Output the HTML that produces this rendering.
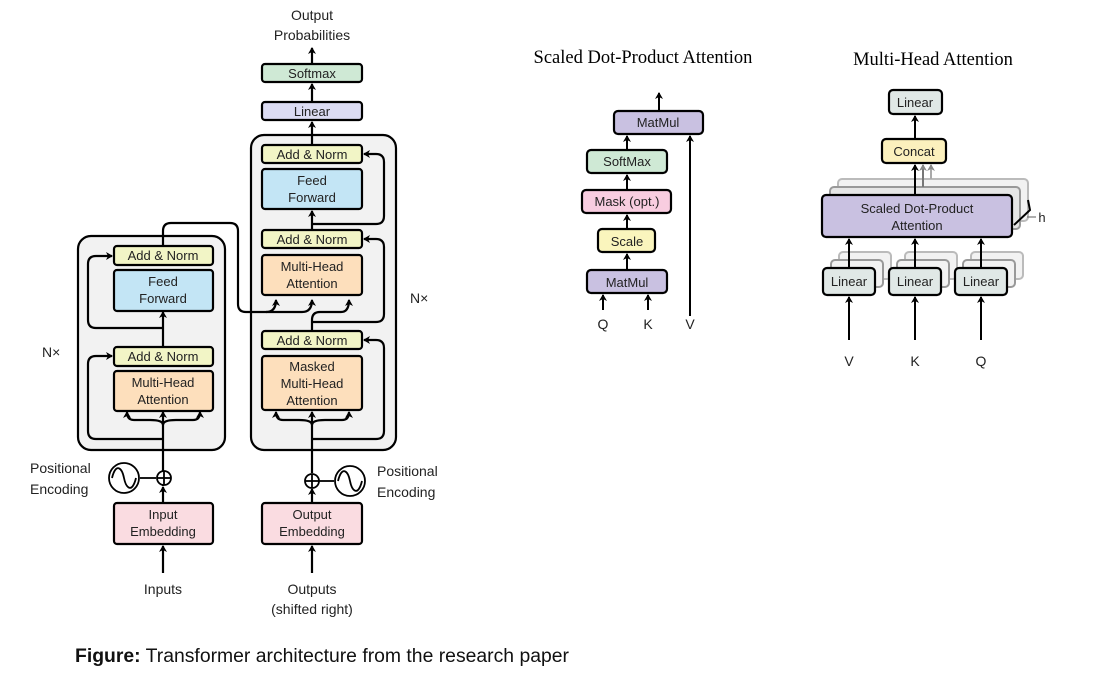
<!DOCTYPE html>
<html><head><meta charset="utf-8"><style>
html,body{margin:0;padding:0;background:#fff}
svg{display:block}
text{font-family:"Liberation Sans",sans-serif;fill:#222}
</style></head><body>
<svg width="1101" height="693" viewBox="0 0 1101 693" xmlns="http://www.w3.org/2000/svg">
<defs>
<marker id="a" markerWidth="8" markerHeight="8" refX="6" refY="4" orient="auto" markerUnits="userSpaceOnUse">
<path d="M0,0 L7,4 L0,8 L2,4 Z" fill="#000"/></marker>
<marker id="g" markerWidth="8" markerHeight="8" refX="6" refY="4" orient="auto" markerUnits="userSpaceOnUse">
<path d="M0,0 L7,4 L0,8 L2,4 Z" fill="#888"/></marker>
</defs>
<g stroke="#000" stroke-width="2.2" fill="none">
<rect x="78" y="236" width="147" height="214" rx="13" fill="#f2f2f2"/>
<rect x="251" y="135" width="145" height="315" rx="13" fill="#f2f2f2"/>
<line x1="163" y1="504" x2="163" y2="487" marker-end="url(#a)"/>
<line x1="163" y1="471" x2="163" y2="412" marker-end="url(#a)"/>
<line x1="163" y1="573" x2="163" y2="546" marker-end="url(#a)"/>
<path d="M163,425 Q163,420 150,420 L134,420 Q127,420 127,412" marker-end="url(#a)"/>
<path d="M163,425 Q163,420 176,420 L193,420 Q200,420 200,412" marker-end="url(#a)"/>
<path d="M163,439 L96,439 Q88,439 88,431 L88,364 Q88,356 96,356 L112,356" marker-end="url(#a)"/>
<line x1="163" y1="348" x2="163" y2="312" marker-end="url(#a)"/>
<path d="M163,328 L96,328 Q88,328 88,320 L88,264 Q88,256 96,256 L112,256" marker-end="url(#a)"/>
<path d="M163,246 L163,231 Q163,223 171,223 L230,223 Q238,223 238,231 L238,304 Q238,312 246,312 L266,312 Q276,312 276,300" marker-end="url(#a)"/>
<path d="M266,312 L302,312 Q312,312 312,300" marker-end="url(#a)"/>
<line x1="163" y1="470" x2="163" y2="486"/>
<line x1="312" y1="573" x2="312" y2="546" marker-end="url(#a)"/>
<line x1="312" y1="504" x2="312" y2="489" marker-end="url(#a)"/>
<line x1="312" y1="473" x2="312" y2="412" marker-end="url(#a)"/>
<path d="M312,425 Q312,420 299,420 L283,420 Q276,420 276,412" marker-end="url(#a)"/>
<path d="M312,425 Q312,420 325,420 L342,420 Q349,420 349,412" marker-end="url(#a)"/>
<path d="M312,439 L376,439 Q384,439 384,431 L384,348 Q384,340 376,340 L364,340" marker-end="url(#a)"/>
<path d="M312,331 L312,320 Q312,312 320,312 L341,312 Q349,312 349,300" marker-end="url(#a)"/>
<path d="M312,322 L376,322 Q384,322 384,314 L384,247 Q384,239 376,239 L364,239" marker-end="url(#a)"/>
<line x1="312" y1="230" x2="312" y2="211" marker-end="url(#a)"/>
<path d="M312,224 L376,224 Q384,224 384,216 L384,162 Q384,154 376,154 L364,154" marker-end="url(#a)"/>
<line x1="312" y1="145" x2="312" y2="122" marker-end="url(#a)"/>
<line x1="312" y1="102" x2="312" y2="84" marker-end="url(#a)"/>
<line x1="312" y1="64" x2="312" y2="48" marker-end="url(#a)"/>
</g>
<g stroke="#000" stroke-width="2.2">
<rect x="114" y="246" width="99" height="19" rx="3" fill="#f2f5c6"/>
<rect x="114" y="270" width="99" height="41" rx="3" fill="#c3e5f5"/>
<rect x="114" y="347" width="99" height="19" rx="3" fill="#f2f5c6"/>
<rect x="114" y="371" width="99" height="40" rx="3" fill="#fddfbc"/>
<rect x="114" y="503" width="99" height="41" rx="3" fill="#fadce1"/>
<rect x="262" y="64" width="100" height="18" rx="3" fill="#cfe9d5"/>
<rect x="262" y="102" width="100" height="18" rx="3" fill="#dcdcf3"/>
<rect x="262" y="145" width="100" height="18" rx="3" fill="#f2f5c6"/>
<rect x="262" y="169" width="100" height="40" rx="3" fill="#c3e5f5"/>
<rect x="262" y="230" width="100" height="18" rx="3" fill="#f2f5c6"/>
<rect x="262" y="255" width="100" height="40" rx="3" fill="#fddfbc"/>
<rect x="262" y="331" width="100" height="18" rx="3" fill="#f2f5c6"/>
<rect x="262" y="356" width="100" height="54" rx="3" fill="#fddfbc"/>
<rect x="262" y="503" width="100" height="41" rx="3" fill="#fadce1"/>
</g>
<g stroke="#000" stroke-width="1.8" fill="#fff">
<line x1="140" y1="478" x2="156" y2="478"/>
<circle cx="124" cy="478" r="15"/>
<path d="M112,478 C116,462 122,468 124,478 C126,488 132,494 136,478" fill="none"/>
<circle cx="164" cy="478" r="7"/>
<line x1="157" y1="478" x2="171" y2="478"/><line x1="164" y1="471" x2="164" y2="485"/>
<line x1="319" y1="481" x2="334" y2="481"/>
<circle cx="350" cy="481" r="15"/>
<path d="M338,481 C342,465 348,471 350,481 C352,491 358,497 362,481" fill="none"/>
<circle cx="312" cy="481" r="7"/>
<line x1="305" y1="481" x2="319" y2="481"/><line x1="312" y1="474" x2="312" y2="488"/>
</g>
<g font-size="14" text-anchor="middle">
<text x="312" y="20">Output</text><text x="312" y="40">Probabilities</text>
<text x="312" y="78" font-size="13">Softmax</text>
<text x="312" y="116" font-size="13">Linear</text>
<text x="312" y="159" font-size="13">Add &amp; Norm</text>
<text x="312" y="185" font-size="13">Feed</text><text x="312" y="202" font-size="13">Forward</text>
<text x="312" y="244" font-size="13">Add &amp; Norm</text>
<text x="312" y="271" font-size="13">Multi-Head</text><text x="312" y="288" font-size="13">Attention</text>
<text x="312" y="345" font-size="13">Add &amp; Norm</text>
<text x="312" y="371" font-size="13">Masked</text><text x="312" y="388" font-size="13">Multi-Head</text><text x="312" y="405" font-size="13">Attention</text>
<text x="312" y="519" font-size="13">Output</text><text x="312" y="536" font-size="13">Embedding</text>
<text x="312" y="594">Outputs</text><text x="312" y="614">(shifted right)</text>
<text x="163" y="260" font-size="13">Add &amp; Norm</text>
<text x="163" y="286" font-size="13">Feed</text><text x="163" y="303" font-size="13">Forward</text>
<text x="163" y="361" font-size="13">Add &amp; Norm</text>
<text x="163" y="387" font-size="13">Multi-Head</text><text x="163" y="404" font-size="13">Attention</text>
<text x="163" y="519" font-size="13">Input</text><text x="163" y="536" font-size="13">Embedding</text>
<text x="163" y="594">Inputs</text>
</g>
<g font-size="14">
<text x="30" y="473">Positional</text><text x="30" y="494">Encoding</text>
<text x="377" y="476">Positional</text><text x="377" y="497">Encoding</text>
<text x="42" y="357">N×</text><text x="410" y="303">N×</text>
</g>
<text x="643" y="63" font-size="18.5" text-anchor="middle" style="font-family:'Liberation Serif',serif;fill:#000">Scaled Dot-Product Attention</text>
<g stroke="#000" stroke-width="2" fill="none">
<line x1="659" y1="111" x2="659" y2="93" marker-end="url(#a)"/>
<line x1="627" y1="150" x2="627" y2="136" marker-end="url(#a)"/>
<line x1="627" y1="190" x2="627" y2="175" marker-end="url(#a)"/>
<line x1="627" y1="229" x2="627" y2="215" marker-end="url(#a)"/>
<line x1="627" y1="270" x2="627" y2="254" marker-end="url(#a)"/>
<line x1="603" y1="310" x2="603" y2="295" marker-end="url(#a)"/>
<line x1="648" y1="310" x2="648" y2="295" marker-end="url(#a)"/>
<line x1="690" y1="316" x2="690" y2="136" marker-end="url(#a)"/>
</g>
<g stroke="#000" stroke-width="2.2">
<rect x="614" y="111" width="89" height="23" rx="4" fill="#c9c1e1"/>
<rect x="587" y="150" width="80" height="23" rx="4" fill="#cfe9d5"/>
<rect x="582" y="190" width="89" height="23" rx="4" fill="#f8cde0"/>
<rect x="598" y="229" width="57" height="23" rx="4" fill="#faf5bd"/>
<rect x="587" y="270" width="80" height="23" rx="4" fill="#c9c1e1"/>
</g>
<g font-size="13" text-anchor="middle">
<text x="658" y="127">MatMul</text><text x="627" y="166">SoftMax</text>
<text x="627" y="206">Mask (opt.)</text><text x="627" y="246">Scale</text>
<text x="627" y="287">MatMul</text>
<text x="603" y="329" font-size="14">Q</text><text x="648" y="329" font-size="14">K</text><text x="690" y="329" font-size="14">V</text>
</g>
<text x="933" y="65" font-size="18.5" text-anchor="middle" style="font-family:'Liberation Serif',serif;fill:#000">Multi-Head Attention</text>
<g stroke="#bbb" stroke-width="2" fill="#f2f2f2">
<rect x="838" y="179" width="190" height="42" rx="4"/>
<rect x="830" y="187" width="190" height="42" rx="4" stroke="#999" fill="#e6e6e6"/>
<rect x="839" y="252" width="52" height="27" rx="4"/><rect x="831" y="260" width="52" height="27" rx="4" stroke="#999"/>
<rect x="905" y="252" width="52" height="27" rx="4"/><rect x="897" y="260" width="52" height="27" rx="4" stroke="#999"/>
<rect x="971" y="252" width="52" height="27" rx="4"/><rect x="963" y="260" width="52" height="27" rx="4" stroke="#999"/>
</g>
<g stroke="#000" stroke-width="2" fill="none">
<line x1="915" y1="139" x2="915" y2="116" marker-end="url(#a)"/>
<line x1="915" y1="195" x2="915" y2="165" marker-end="url(#a)"/>
<line x1="923" y1="187" x2="923" y2="165" stroke="#777" marker-end="url(#g)"/>
<line x1="931" y1="179" x2="931" y2="165" stroke="#aaa" marker-end="url(#g)"/>
<line x1="849" y1="268" x2="849" y2="239" marker-end="url(#a)"/>
<line x1="915" y1="268" x2="915" y2="239" marker-end="url(#a)"/>
<line x1="981" y1="268" x2="981" y2="239" marker-end="url(#a)"/>
<line x1="849" y1="340" x2="849" y2="297" marker-end="url(#a)"/>
<line x1="915" y1="340" x2="915" y2="297" marker-end="url(#a)"/>
<line x1="981" y1="340" x2="981" y2="297" marker-end="url(#a)"/>
<path d="M1028,200 L1030,210 L1014,225"/>
<line x1="1027" y1="217" x2="1036" y2="217" stroke="#777" stroke-width="1.2"/>
</g>
<g stroke="#000" stroke-width="2.2">
<rect x="889" y="90" width="53" height="24" rx="4" fill="#e0e8e6"/>
<rect x="882" y="139" width="64" height="24" rx="4" fill="#fbf0bd"/>
<rect x="822" y="195" width="190" height="42" rx="4" fill="#c9c1e1"/>
<rect x="823" y="268" width="52" height="27" rx="4" fill="#e0e8e6"/>
<rect x="889" y="268" width="52" height="27" rx="4" fill="#e0e8e6"/>
<rect x="955" y="268" width="52" height="27" rx="4" fill="#e0e8e6"/>
</g>
<g font-size="13" text-anchor="middle">
<text x="915" y="107">Linear</text><text x="914" y="156">Concat</text>
<text x="917" y="213">Scaled Dot-Product</text><text x="917" y="230">Attention</text>
<text x="849" y="286">Linear</text><text x="915" y="286">Linear</text><text x="981" y="286">Linear</text>
<text x="849" y="366" font-size="14">V</text><text x="915" y="366" font-size="14">K</text><text x="981" y="366" font-size="14">Q</text>
<text x="1042" y="222">h</text>
</g>
<text x="75" y="662" font-size="19" textLength="494" lengthAdjust="spacingAndGlyphs" style="fill:#111"><tspan font-weight="bold">Figure:</tspan> Transformer architecture from the research paper</text>
</svg>
</body></html>
